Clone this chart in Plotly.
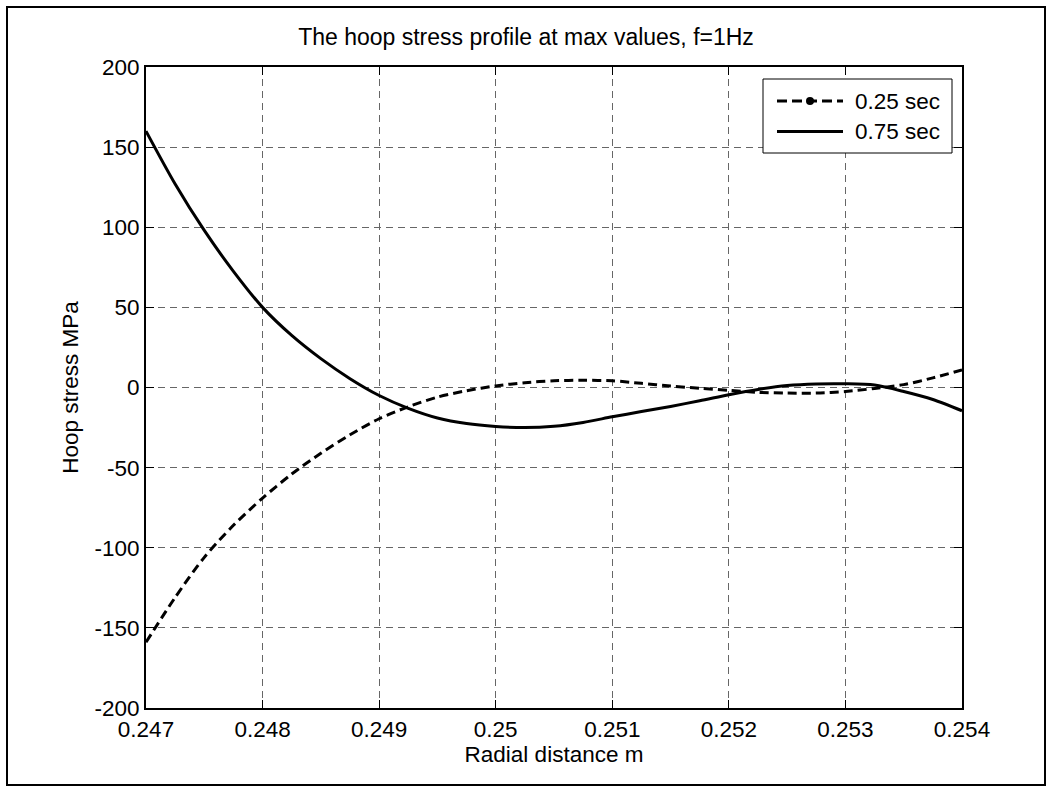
import plotly.graph_objects as go

# Radial positions (m) and hoop stress (MPa) for the two time instants
radius = [0.24700, 0.24725, 0.24750, 0.24775, 0.24800, 0.24825, 0.24850, 0.24875,
          0.24900, 0.24925, 0.24950, 0.24975, 0.25000, 0.25025, 0.25050, 0.25075,
          0.25100, 0.25125, 0.25150, 0.25175, 0.25200, 0.25225, 0.25250, 0.25275,
          0.25300, 0.25325, 0.25350, 0.25375, 0.25400]

stress_025 = [-159, -131, -106, -86, -69, -54, -41, -29.5,
              -19.5, -12, -6, -2, 1, 3, 4.2, 4.5,
              4.2, 2.6, 0.9, -0.5, -1.8, -3, -3.5, -3.5,
              -2.5, -0.6, 1.8, 6, 11]

stress_075 = [160, 127, 98, 72.5, 50, 32.5, 18, 5.5,
              -5, -13, -19, -22.5, -24.3, -25, -24.2, -21.8,
              -18.3, -15, -11.8, -8.3, -4.5, -1.2, 1.2, 2.2,
              2.3, 1.5, -2.5, -7.5, -14.5]

x_ticks = [0.247, 0.248, 0.249, 0.250, 0.251, 0.252, 0.253, 0.254]
x_tick_text = ["0.247", "0.248", "0.249", "0.25", "0.251", "0.252", "0.253", "0.254"]
y_ticks = [-200, -150, -100, -50, 0, 50, 100, 150, 200]
y_tick_text = ["-200", "-150", "-100", "-50", "0", "50", "100", "150", "200"]

series_names = ["0.25 sec", "0.75 sec"]

W, H = 1052, 792
L, R, T, B = 146, 90, 67, 84
PW, PH = W - L - R, H - T - B
FONT = "Liberation Sans, Arial, sans-serif"
TXT = 22.5


def px(xp):
    return (xp - L) / PW


def py(yp):
    return (H - B - yp) / PH


fig = go.Figure()
fig.add_trace(go.Scatter(x=radius, y=stress_025, mode="lines", name=series_names[0],
                         line=dict(color="black", width=3, dash="9px,5px",
                                   shape="spline", smoothing=0.8),
                         showlegend=False))
fig.add_trace(go.Scatter(x=radius, y=stress_075, mode="lines", name=series_names[1],
                         line=dict(color="black", width=3, shape="spline", smoothing=0.8),
                         showlegend=False))

axis_common = dict(
    showline=True, linecolor="black", linewidth=2, mirror="ticks",
    ticks="inside", ticklen=8, tickwidth=1, tickcolor="black",
    showgrid=True, gridcolor="#666666", gridwidth=1, griddash="7px,5px",
    zeroline=False,
    tickfont=dict(family=FONT, size=TXT, color="black"),
)

fig.update_xaxes(range=[0.247, 0.254], tickvals=x_ticks, ticktext=x_tick_text,
                 title=dict(text="Radial distance m", font=dict(family=FONT, size=TXT, color="black"),
                            standoff=4),
                 **axis_common)
fig.update_yaxes(range=[-200, 200], tickvals=y_ticks, ticktext=y_tick_text,
                 title=dict(text="Hoop stress MPa", font=dict(family=FONT, size=TXT, color="black"),
                            standoff=10),
                 **axis_common)

shapes = [
    # figure frame
    dict(type="rect", xref="paper", yref="paper",
         x0=px(7), x1=px(1045), y0=py(785), y1=py(7),
         line=dict(color="black", width=2), layer="below"),
    # legend box
    dict(type="rect", xref="paper", yref="paper",
         x0=px(763), x1=px(952), y0=py(153), y1=py(79),
         line=dict(color="black", width=1), fillcolor="white", layer="above"),
    dict(type="line", xref="paper", yref="paper",
         x0=px(777), x1=px(843), y0=py(101), y1=py(101),
         line=dict(color="black", width=3, dash="10px,5px"), layer="above"),
    dict(type="circle", xref="paper", yref="paper",
         x0=px(806), x1=px(814), y0=py(105), y1=py(97),
         line=dict(color="black", width=0), fillcolor="black", layer="above"),
    dict(type="line", xref="paper", yref="paper",
         x0=px(777), x1=px(843), y0=py(131.5), y1=py(131.5),
         line=dict(color="black", width=3), layer="above"),
]

annotations = [
    dict(text=series_names[0], xref="paper", yref="paper", x=px(853), y=py(101),
         xanchor="left", yanchor="middle", showarrow=False,
         font=dict(family=FONT, size=TXT, color="black")),
    dict(text=series_names[1], xref="paper", yref="paper", x=px(853), y=py(131.5),
         xanchor="left", yanchor="middle", showarrow=False,
         font=dict(family=FONT, size=TXT, color="black")),
]

fig.update_layout(
    width=W, height=H,
    margin=dict(l=L, r=R, t=T, b=B),
    paper_bgcolor="white", plot_bgcolor="white",
    title=dict(text="The hoop stress profile at max values, f=1Hz",
               x=px(554), xanchor="center", y=1 - 37 / H, yanchor="middle",
               font=dict(family=FONT, size=23, color="black")),
    showlegend=False,
    shapes=shapes,
    annotations=annotations,
)

fig.write_html("out.html")
